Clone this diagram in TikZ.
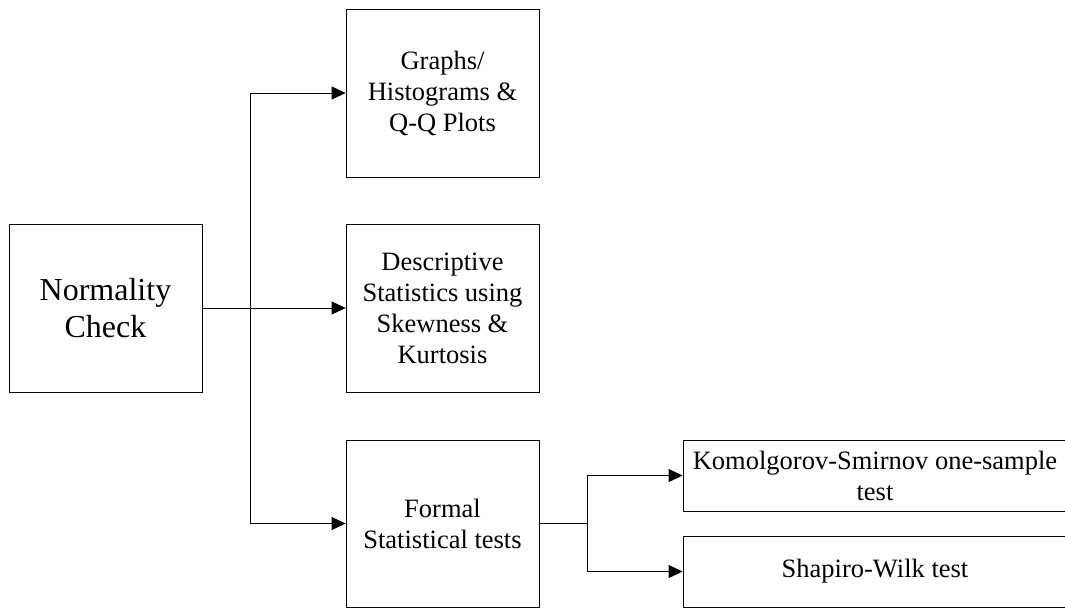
\documentclass[tikz,border=0pt]{standalone}
\usepackage{fontspec}
\setmainfont{Liberation Serif}
\usetikzlibrary{arrows.meta}
\begin{document}
\begin{tikzpicture}[x=1pt,y=-1pt,
  boxnode/.style={draw, line width=0.8pt, align=center, inner sep=0pt, font=\fontsize{26.5}{31}\selectfont},
  bigbox/.style={boxnode, minimum width=193pt, minimum height=168pt},
  widebox/.style={boxnode, minimum width=384pt, minimum height=71pt},
  conn/.style={line width=0.8pt},
  arr/.style={conn, -{Triangle[length=14pt,width=13pt]}}]
\useasboundingbox (0,0) rectangle (1065,608);
\node[bigbox, font=\fontsize{32}{37.5}\selectfont] (norm) at (105.5,308) {Normality\\Check};
\node[bigbox] (graphs) at (442.5,93) {Graphs/\\Histograms \&\\Q-Q Plots};
\node[bigbox] (desc) at (442.5,308) {Descriptive\\Statistics using\\Skewness \&\\Kurtosis};
\node[bigbox, minimum height=167pt] (formal) at (442.5,523.5) {Formal\\Statistical tests};
\node[widebox] (ks) at (875,475.5) {Komolgorov-Smirnov one-sample\\test};
\node[widebox] (sw) at (875,571.5) {Shapiro-Wilk test};
\coordinate (j1) at (250,308);
\coordinate (j2) at (587,523.5);
\draw[conn] (norm.east) -- (j1);
\draw[arr] (j1) |- (graphs.west);
\draw[arr] (j1) -- (desc.west);
\draw[arr] (j1) |- (formal.west);
\draw[conn] (formal.east) -- (j2);
\draw[arr] (j2) |- (ks.west);
\draw[arr] (j2) |- (sw.west);
\end{tikzpicture}
\end{document}
